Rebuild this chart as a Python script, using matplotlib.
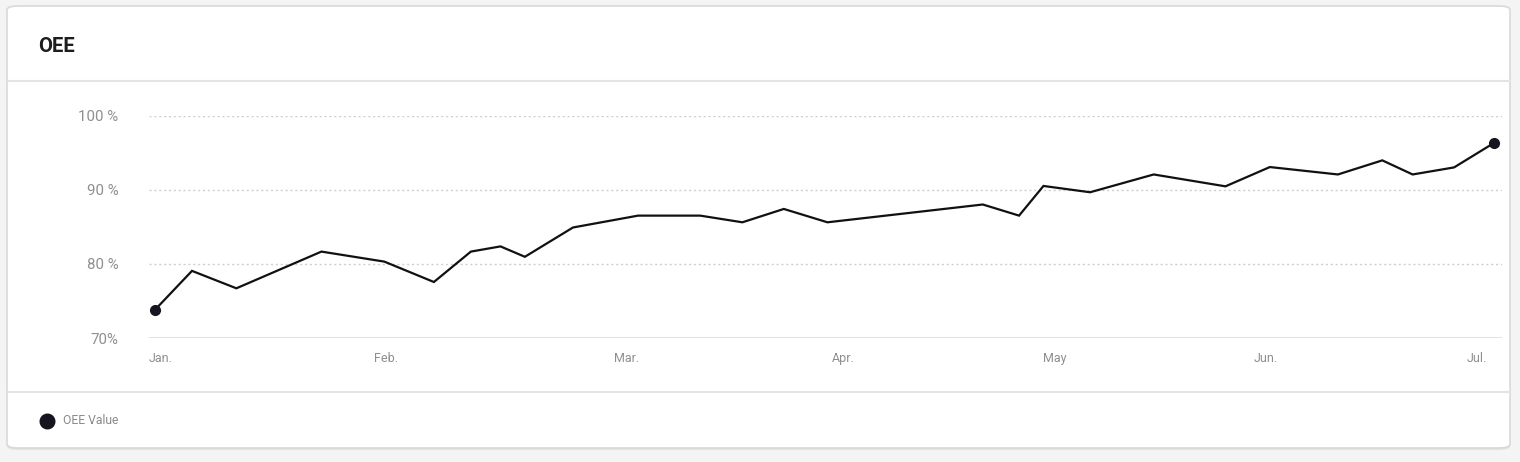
import matplotlib.pyplot as plt
from matplotlib.patches import FancyBboxPatch
from matplotlib.lines import Line2D

plt.rcParams['font.family'] = ['Roboto', 'DejaVu Sans']

# days since Jan 1 and OEE values (%)
days = [0, 5, 11, 22.5, 31, 37.7, 42.7, 46.7, 50, 56.5, 65.3, 73.7, 79.4, 85, 90.9,
        111.9, 116.8, 120.1, 126.4, 135, 144.7, 150.7, 159.9, 165.9, 170, 175.6, 181]
oee = [73.8, 79.05, 76.7, 81.65, 80.3, 77.55, 81.65, 82.35, 80.95, 84.9, 86.5, 86.5,
       85.6, 87.4, 85.6, 88.0, 86.5, 90.5, 89.65, 92.05, 90.45, 93.05, 92.05, 93.95,
       92.05, 93.0, 96.3]

month_labels = ['Jan.', 'Feb.', 'Mar.', 'Apr.', 'May', 'Jun.', 'Jul.']
month_ticks = [0.7, 31.2, 63.7, 93, 121.6, 150.2, 178.7]
y_ticks = [70, 80, 90, 100]
y_labels = ['70%', '80 %', '90 %', '100 %']

W, H = 1520, 462
fig = plt.figure(figsize=(W / 100, H / 100), dpi=100)
fig.patch.set_facecolor('#f4f4f4')

# card background
shadow = FancyBboxPatch((7 / W, (H - 450) / H), 1503 / W, 442 / H,
                        boxstyle='round,pad=0,rounding_size=0.008',
                        transform=fig.transFigure, facecolor='#e2e2e2',
                        edgecolor='none', zorder=0)
card = FancyBboxPatch((7 / W, (H - 448) / H), 1503 / W, 442 / H,
                      boxstyle='round,pad=0,rounding_size=0.008',
                      transform=fig.transFigure, facecolor='white',
                      edgecolor='#d9d9d9', linewidth=1.2, zorder=0.1)
fig.patches.extend([shadow, card])
for yy in (80.5, 392):
    fig.lines.append(Line2D([7.5 / W, 1509.5 / W], [1 - yy / H, 1 - yy / H],
                            transform=fig.transFigure, color='#e4e4e4', lw=1.5))

fig.text(38 / W, 1 - 46 / H, 'OEE', fontsize=14.5, fontweight='bold',
         color='#1d1d1d', va='center', ha='left')

# legend
fig.lines.append(Line2D([47 / W], [1 - 421 / H], transform=fig.transFigure,
                        marker='o', markersize=10.5, color='#151520', lw=0))
fig.text(63 / W, 1 - 421 / H, 'OEE Value', fontsize=8.7, color='#8a8a8a',
         va='center', ha='left')

ax = fig.add_axes([149 / W, (H - 338) / H, (1502 - 149) / W, 222.5 / H])
ax.set_zorder(2)
ax.set_facecolor('none')
ax.plot(days, oee, color='#111111', lw=1.6, solid_joinstyle='miter',
        marker='o', markevery=[0, len(days) - 1], markersize=7,
        markerfacecolor='#151520', markeredgecolor='#151520', clip_on=False, zorder=3)

ax.set_xlim(-0.81, 182.08)
ax.set_ylim(70, 100)
for v in y_ticks[1:]:
    ax.axhline(v, color='#cfcfcf', lw=1, ls=(0, (1.5, 2)), zorder=1)
ax.axhline(70, color='#dedede', lw=2, zorder=1)

ax.set_yticks(y_ticks, y_labels)
ax.set_xticks(month_ticks, month_labels)
ax.tick_params(axis='y', length=0, pad=22, labelsize=10.8, labelcolor='#8f8f8f')
ax.tick_params(axis='x', length=0, pad=10, labelsize=9, labelcolor='#8f8f8f')
for s in ax.spines.values():
    s.set_visible(False)

fig.savefig('out.png', dpi=100)
